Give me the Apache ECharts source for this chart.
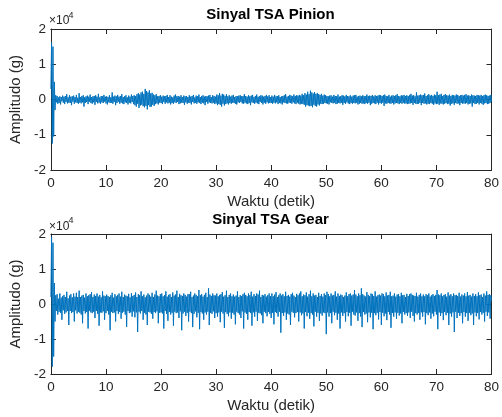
<!DOCTYPE html>
<html>
<head>
<meta charset="utf-8">
<script src="https://cdn.jsdelivr.net/npm/echarts@6/dist/echarts.min.js"></script>
<style>html,body{margin:0;padding:0;background:#fff}#c{width:502px;height:417px}</style>
</head>
<body>
<div id="c"></div>
<script>
// time span of the signals (detik); samples are evenly spaced over it
var duration = 80;
var xTicks = [0, 10, 20, 30, 40, 50, 60, 70, 80];
var yTicks = [-2, -1, 0, 1, 2]; // x 10^4
var titles = ['Sinyal TSA Pinion', 'Sinyal TSA Gear'];
var xName = 'Waktu (detik)';
var yName = 'Amplitudo (g)';

// Amplitudes in units of 10^4 g
var pinion = [
 0.3, 1.62, -1.25, 1.5, -1.05, 0.5, -0.3, 0.12, -0.08, 0.1, -0.12, 0.06, -0.1, 0.09, -0.14, 0.07, -0.05, 0.11, -0.09, 0.08, -0.13, 0.1, -0.07, 0.15, -0.11, 0.06, -0.09, 0.12, -0.1, 0.08, -0.16, 0.09, -0.06, 0.11, -0.12, 0.07, -0.08, 0.13, -0.1, 0.05,
 -0.12, 0.18, -0.09, 0.07, -0.11, 0.1, -0.08, 0.12, -0.2, 0.06, -0.1, 0.09, -0.07, 0.11, -0.13, 0.08, -0.06, 0.14, -0.1, 0.07, -0.12, 0.09, -0.08, 0.1, -0.15, 0.12, -0.07, 0.08, -0.11, 0.16, -0.09, 0.06, -0.12, 0.1, -0.08, 0.09, -0.1, 0.13, -0.06, 0.08,
 -0.11, 0.09, -0.14, 0.07, -0.08, 0.12, -0.1, 0.06, -0.09, 0.2, -0.12, 0.08, -0.07, 0.11, -0.16, 0.09, -0.1, 0.13, -0.06, 0.08, -0.12, 0.1, -0.09, 0.15, -0.11, 0.07, -0.13, 0.09, -0.08, 0.12, -0.1, 0.06, -0.14, 0.11, -0.09, 0.08, -0.11, 0.14, -0.07, 0.1,
 -0.13, 0.12, -0.16, 0.1, -0.2, 0.15, -0.12, 0.18, -0.24, 0.14, -0.17, 0.2, -0.15, 0.22, -0.19, 0.16, -0.22, 0.3, -0.18, 0.24, -0.28, 0.2, -0.16, 0.26, -0.21, 0.17, -0.2, 0.19, -0.15, 0.14, -0.18, 0.12, -0.13, 0.15, -0.11, 0.09, -0.14, 0.1, -0.09, 0.12,
 -0.1, 0.08, -0.13, 0.11, -0.07, 0.09, -0.12, 0.1, -0.08, 0.13, -0.11, 0.07, -0.09, 0.12, -0.14, 0.08, -0.1, 0.06, -0.12, 0.11, -0.08, 0.14, -0.1, 0.09, -0.07, 0.1, -0.13, 0.08, -0.11, 0.12, -0.09, 0.07, -0.1, 0.11, -0.15, 0.09, -0.08, 0.1, -0.12, 0.07,
 -0.09, 0.12, -0.1, 0.08, -0.14, 0.1, -0.07, 0.13, -0.11, 0.06, -0.09, 0.11, -0.12, 0.09, -0.08, 0.14, -0.1, 0.07, -0.13, 0.1, -0.09, 0.12, -0.11, 0.08, -0.16, 0.1, -0.07, 0.09, -0.12, 0.11, -0.08, 0.13, -0.1, 0.07, -0.11, 0.12, -0.09, 0.1, -0.13, 0.08,
 -0.11, 0.14, -0.16, 0.12, -0.13, 0.18, -0.15, 0.11, -0.2, 0.16, -0.12, 0.14, -0.17, 0.1, -0.13, 0.15, -0.11, 0.09, -0.14, 0.12, -0.1, 0.08, -0.12, 0.11, -0.09, 0.13, -0.1, 0.07, -0.12, 0.1, -0.14, 0.09, -0.08, 0.11, -0.1, 0.12, -0.07, 0.09, -0.11, 0.1,
 -0.12, 0.15, -0.09, 0.1, -0.11, 0.08, -0.13, 0.12, -0.1, 0.09, -0.16, 0.11, -0.08, 0.13, -0.1, 0.07, -0.12, 0.1, -0.09, 0.14, -0.11, 0.08, -0.13, 0.09, -0.07, 0.12, -0.1, 0.11, -0.14, 0.08, -0.09, 0.1, -0.12, 0.13, -0.08, 0.09, -0.11, 0.12, -0.1, 0.07,
 -0.1, 0.11, -0.12, 0.08, -0.09, 0.13, -0.11, 0.09, -0.08, 0.1, -0.13, 0.12, -0.1, 0.07, -0.11, 0.09, -0.14, 0.1, -0.08, 0.12, -0.1, 0.15, -0.11, 0.08, -0.12, 0.1, -0.09, 0.13, -0.1, 0.11, -0.12, 0.09, -0.08, 0.14, -0.11, 0.1, -0.13, 0.12, -0.09, 0.11,
 -0.12, 0.13, -0.14, 0.11, -0.12, 0.16, -0.13, 0.12, -0.15, 0.18, -0.2, 0.14, -0.16, 0.22, -0.17, 0.15, -0.19, 0.25, -0.18, 0.2, -0.22, 0.17, -0.15, 0.21, -0.18, 0.16, -0.2, 0.18, -0.14, 0.15, -0.17, 0.13, -0.12, 0.16, -0.13, 0.11, -0.12, 0.14, -0.1, 0.12,
 -0.11, 0.1, -0.12, 0.09, -0.14, 0.11, -0.08, 0.12, -0.1, 0.08, -0.11, 0.13, -0.09, 0.1, -0.13, 0.09, -0.12, 0.14, -0.1, 0.08, -0.11, 0.1, -0.09, 0.12, -0.15, 0.11, -0.1, 0.09, -0.12, 0.13, -0.08, 0.1, -0.11, 0.09, -0.13, 0.12, -0.1, 0.08, -0.12, 0.11,
 -0.1, 0.12, -0.11, 0.13, -0.09, 0.08, -0.14, 0.1, -0.12, 0.11, -0.1, 0.09, -0.12, 0.12, -0.11, 0.1, -0.13, 0.09, -0.1, 0.14, -0.12, 0.1, -0.09, 0.11, -0.16, 0.1, -0.12, 0.13, -0.1, 0.09, -0.11, 0.12, -0.13, 0.1, -0.09, 0.11, -0.14, 0.13, -0.1, 0.12,
 -0.12, 0.1, -0.09, 0.12, -0.18, 0.14, -0.11, 0.1, -0.12, 0.09, -0.1, 0.13, -0.11, 0.08, -0.12, 0.11, -0.1, 0.12, -0.14, 0.1, -0.11, 0.12, -0.1, 0.15, -0.11, 0.1, -0.13, 0.09, -0.1, 0.12, -0.12, 0.11, -0.09, 0.13, -0.12, 0.1, -0.11, 0.12, -0.13, 0.1,
 -0.12, 0.13, -0.11, 0.16, -0.1, 0.11, -0.15, 0.12, -0.1, 0.09, -0.12, 0.2, -0.13, 0.11, -0.12, 0.12, -0.1, 0.14, -0.16, 0.12, -0.1, 0.13, -0.12, 0.17, -0.11, 0.1, -0.14, 0.12, -0.12, 0.15, -0.13, 0.11, -0.1, 0.13, -0.12, 0.1, -0.15, 0.14, -0.11, 0.12,
 -0.13, 0.22, -0.12, 0.12, -0.15, 0.14, -0.11, 0.16, -0.12, 0.1, -0.14, 0.13, -0.12, 0.15, -0.1, 0.12, -0.13, 0.11, -0.12, 0.14, -0.17, 0.1, -0.12, 0.13, -0.11, 0.12, -0.15, 0.11, -0.1, 0.14, -0.12, 0.13, -0.11, 0.1, -0.16, 0.12, -0.1, 0.13, -0.12, 0.11,
 -0.11, 0.13, -0.12, 0.15, -0.1, 0.11, -0.14, 0.12, -0.12, 0.1, -0.11, 0.14, -0.2, 0.12, -0.1, 0.11, -0.13, 0.1, -0.12, 0.13, -0.1, 0.12, -0.14, 0.11, -0.1, 0.13, -0.12, 0.1, -0.15, 0.12, -0.11, 0.14, -0.1, 0.12, -0.13, 0.1, -0.12, 0.11, -0.1, 0.13,
 -0.05
];

var gear = [
 0.2, 1.92, -1.79, 1.75, -1.5, 0.6, -0.5, 0.25, -0.2, 0.28, -0.3, 0.15, -0.22, 0.3, -0.25, 0.18, -0.45, 0.22, -0.18, 0.26, -0.28, 0.2, -0.24, 0.35, -0.2, 0.16, -0.6, 0.24, -0.2, 0.28, -0.26, 0.19, -0.23, 0.3, -0.5, 0.21, -0.18, 0.32, -0.27, 0.2,
 -0.22, 0.38, -0.25, 0.2, -0.3, 0.24, -0.55, 0.26, -0.2, 0.18, -0.27, 0.3, -0.23, 0.22, -0.7, 0.25, -0.19, 0.28, -0.24, 0.34, -0.26, 0.2, -0.22, 0.27, -0.4, 0.23, -0.2, 0.3, -0.28, 0.21, -0.62, 0.26, -0.24, 0.19, -0.25, 0.36, -0.21, 0.24, -0.45, 0.22,
 -0.26, 0.27, -0.2, 0.23, -0.3, 0.2, -0.75, 0.25, -0.22, 0.32, -0.26, 0.18, -0.24, 0.28, -0.5, 0.22, -0.2, 0.26, -0.28, 0.3, -0.23, 0.21, -0.42, 0.35, -0.25, 0.2, -0.22, 0.27, -0.3, 0.24, -0.65, 0.22, -0.2, 0.29, -0.26, 0.19, -0.24, 0.31, -0.36, 0.23,
 -0.21, 0.26, -0.38, 0.33, -0.24, 0.2, -0.8, 0.28, -0.22, 0.25, -0.27, 0.36, -0.2, 0.22, -0.45, 0.27, -0.25, 0.19, -0.3, 0.24, -0.6, 0.3, -0.22, 0.26, -0.24, 0.21, -0.28, 0.32, -0.42, 0.2, -0.23, 0.27, -0.26, 0.38, -0.21, 0.24, -0.55, 0.22, -0.25, 0.28,
 -0.24, 0.3, -0.27, 0.22, -0.7, 0.25, -0.2, 0.36, -0.28, 0.21, -0.48, 0.26, -0.23, 0.28, -0.3, 0.2, -0.25, 0.33, -0.62, 0.24, -0.22, 0.27, -0.26, 0.38, -0.24, 0.2, -0.4, 0.29, -0.21, 0.25, -0.75, 0.23, -0.27, 0.3, -0.22, 0.26, -0.34, 0.21, -0.25, 0.28,
 -0.5, 0.28, -0.22, 0.35, -0.26, 0.2, -0.66, 0.24, -0.28, 0.3, -0.21, 0.26, -0.38, 0.22, -0.25, 0.4, -0.72, 0.25, -0.23, 0.28, -0.27, 0.21, -0.45, 0.26, -0.24, 0.32, -0.3, 0.2, -0.22, 0.45, -0.6, 0.27, -0.25, 0.23, -0.28, 0.3, -0.21, 0.25, -0.4, 0.24,
 -0.26, 0.3, -0.36, 0.22, -0.24, 0.26, -0.52, 0.28, -0.22, 0.34, -0.27, 0.21, -0.68, 0.25, -0.23, 0.38, -0.28, 0.2, -0.35, 0.26, -0.24, 0.3, -0.42, 0.22, -0.25, 0.27, -0.3, 0.21, -0.58, 0.24, -0.22, 0.36, -0.26, 0.2, -0.3, 0.25, -0.4, 0.23, -0.21, 0.28,
 -0.7, 0.32, -0.24, 0.26, -0.28, 0.22, -0.45, 0.3, -0.23, 0.25, -0.26, 0.35, -0.62, 0.21, -0.24, 0.28, -0.36, 0.23, -0.22, 0.3, -0.48, 0.27, -0.25, 0.38, -0.27, 0.2, -0.32, 0.26, -0.55, 0.24, -0.22, 0.28, -0.26, 0.21, -0.35, 0.25, -0.23, 0.3, -0.28, 0.22,
 -0.4, 0.3, -0.25, 0.22, -0.58, 0.27, -0.23, 0.34, -0.26, 0.2, -0.36, 0.25, -0.22, 0.3, -0.82, 0.24, -0.26, 0.28, -0.34, 0.22, -0.24, 0.35, -0.45, 0.23, -0.27, 0.26, -0.3, 0.21, -0.6, 0.28, -0.22, 0.32, -0.25, 0.24, -0.38, 0.2, -0.26, 0.29, -0.23, 0.25,
 -0.5, 0.3, -0.24, 0.36, -0.32, 0.22, -0.27, 0.27, -0.7, 0.25, -0.23, 0.33, -0.35, 0.21, -0.25, 0.28, -0.42, 0.38, -0.26, 0.22, -0.3, 0.3, -0.64, 0.24, -0.22, 0.26, -0.36, 0.2, -0.25, 0.32, -0.48, 0.23, -0.27, 0.28, -0.33, 0.21, -0.24, 0.3, -0.26, 0.25,
 -0.86, 0.35, -0.24, 0.28, -0.36, 0.22, -0.26, 0.3, -0.55, 0.24, -0.22, 0.26, -0.32, 0.36, -0.25, 0.21, -0.45, 0.3, -0.27, 0.23, -0.7, 0.27, -0.24, 0.25, -0.34, 0.2, -0.26, 0.24, -0.5, 0.33, -0.23, 0.22, -0.35, 0.28, -0.25, 0.3, -0.62, 0.24, -0.22, 0.27,
 -0.3, 0.4, -0.33, 0.27, -0.24, 0.22, -0.48, 0.3, -0.26, 0.25, -0.36, 0.45, -0.66, 0.28, -0.23, 0.24, -0.3, 0.21, -0.27, 0.34, -0.52, 0.26, -0.24, 0.22, -0.38, 0.3, -0.25, 0.28, -0.72, 0.23, -0.26, 0.36, -0.32, 0.21, -0.25, 0.25, -0.44, 0.27, -0.23, 0.24,
 -0.6, 0.3, -0.25, 0.28, -0.35, 0.22, -0.27, 0.33, -0.46, 0.24, -0.23, 0.26, -0.3, 0.35, -0.68, 0.22, -0.26, 0.24, -0.36, 0.3, -0.24, 0.21, -0.42, 0.27, -0.25, 0.28, -0.33, 0.22, -0.27, 0.32, -0.55, 0.25, -0.23, 0.26, -0.3, 0.2, -0.26, 0.29, -0.34, 0.23,
 -0.24, 0.28, -0.4, 0.3, -0.22, 0.26, -0.34, 0.24, -0.5, 0.23, -0.26, 0.32, -0.3, 0.21, -0.25, 0.26, -0.45, 0.3, -0.24, 0.22, -0.36, 0.27, -0.23, 0.22, -0.58, 0.28, -0.26, 0.25, -0.32, 0.3, -0.24, 0.21, -0.42, 0.25, -0.27, 0.28, -0.35, 0.23, -0.22, 0.26,
 -0.3, 0.4, -0.72, 0.27, -0.24, 0.25, -0.34, 0.3, -0.26, 0.22, -0.46, 0.26, -0.23, 0.28, -0.32, 0.21, -0.25, 0.33, -0.6, 0.24, -0.27, 0.28, -0.36, 0.22, -0.24, 0.3, -0.8, 0.25, -0.22, 0.26, -0.4, 0.23, -0.25, 0.32, -0.34, 0.21, -0.26, 0.27, -0.55, 0.24,
 -0.23, 0.3, -0.36, 0.22, -0.26, 0.34, -0.48, 0.24, -0.25, 0.26, -0.32, 0.21, -0.27, 0.3, -0.6, 0.23, -0.24, 0.28, -0.35, 0.22, -0.26, 0.33, -0.44, 0.25, -0.23, 0.27, -0.3, 0.2, -0.25, 0.3, -0.5, 0.24, -0.22, 0.36, -0.34, 0.26, -0.24, 0.28, -0.42, 0.25,
 0.1
];

function withTime(vals) {
  var step = duration / (vals.length - 1);
  return vals.map(function (v, i) { return [i * step, v]; });
}

var FONT = '"Liberation Sans", Arial, Helvetica, sans-serif';
var TXT = '#262626';
var LINE = '#262626';
var BLUE = '#0072BD';

var grids = [
  { left: 48, right: 9, top: 29, height: 141 },
  { left: 48, right: 9, top: 234, height: 140 }
];

function xMain(gi) {
  return {
    type: 'value', gridIndex: gi, min: xTicks[0], max: xTicks[xTicks.length - 1], interval: 10,
    position: 'bottom',
    name: xName, nameLocation: 'middle', nameGap: 24,
    nameTextStyle: { fontFamily: FONT, fontSize: 15, color: TXT },
    axisLine: { show: true, onZero: false, lineStyle: { color: LINE, width: 1 } },
    axisTick: { show: true, inside: true, length: 5, lineStyle: { color: LINE } },
    axisLabel: { show: true, margin: 6, fontFamily: FONT, fontSize: 13.5, color: TXT },
    splitLine: { show: false }
  };
}
function xTop(gi) {
  return {
    type: 'value', gridIndex: gi, min: xTicks[0], max: xTicks[xTicks.length - 1], interval: 10,
    position: 'top',
    axisLine: { show: true, onZero: false, lineStyle: { color: LINE, width: 1 } },
    axisTick: { show: true, inside: true, length: 5, lineStyle: { color: LINE } },
    axisLabel: { show: false },
    splitLine: { show: false }
  };
}
function yMain(gi) {
  return {
    type: 'value', gridIndex: gi, min: yTicks[0], max: yTicks[yTicks.length - 1], interval: 1,
    position: 'left',
    name: yName, nameLocation: 'middle', nameGap: 25, nameRotate: 90,
    nameTextStyle: { fontFamily: FONT, fontSize: 15, color: TXT },
    axisLine: { show: true, onZero: false, lineStyle: { color: LINE, width: 1 } },
    axisTick: { show: true, inside: true, length: 5, lineStyle: { color: LINE } },
    axisLabel: { show: true, margin: 5, fontFamily: FONT, fontSize: 13.5, color: TXT,
      formatter: function (v) { return String(v); } },
    splitLine: { show: false }
  };
}
function yRight(gi) {
  return {
    type: 'value', gridIndex: gi, min: yTicks[0], max: yTicks[yTicks.length - 1], interval: 1,
    position: 'right',
    axisLine: { show: true, onZero: false, lineStyle: { color: LINE, width: 1 } },
    axisTick: { show: true, inside: true, length: 5, lineStyle: { color: LINE } },
    axisLabel: { show: false },
    splitLine: { show: false }
  };
}

var chart = echarts.init(document.getElementById('c'), null, { renderer: 'canvas' });

function titleText(txt, cx, cy) {
  return {
    type: 'text', x: cx, y: cy,
    style: { text: txt, fontFamily: FONT, fontSize: 15, fontWeight: 'bold', fill: '#000',
      align: 'center', verticalAlign: 'middle' }
  };
}
function expTexts(x, cy) {
  return [
    { type: 'text', x: x, y: cy,
      style: { text: '\u00d710', fontFamily: FONT, fontSize: 12, fill: TXT, align: 'left', verticalAlign: 'middle' } },
    { type: 'text', x: x + 19.5, y: cy - 5.5,
      style: { text: '4', fontFamily: FONT, fontSize: 9, fill: TXT, align: 'left', verticalAlign: 'middle' } }
  ];
}

chart.setOption({
  animation: false,
  backgroundColor: '#fff',
  grid: grids,
  xAxis: [xMain(0), xTop(0), xMain(1), xTop(1)],
  yAxis: [yMain(0), yRight(0), yMain(1), yRight(1)],
  series: [
    { type: 'line', name: titles[0], xAxisIndex: 0, yAxisIndex: 0, data: withTime(pinion),
      showSymbol: false, symbol: 'none', sampling: null, silent: true, z: 5,
      lineStyle: { color: BLUE, width: 1 } },
    { type: 'line', name: titles[1], xAxisIndex: 2, yAxisIndex: 2, data: withTime(gear),
      showSymbol: false, symbol: 'none', sampling: null, silent: true, z: 5,
      lineStyle: { color: BLUE, width: 1 } }
  ],
  graphic: [
    titleText(titles[0], 270.5, 15),
    titleText(titles[1], 270.5, 220)
  ].concat(expTexts(49, 21)).concat(expTexts(49, 226.5))
});
</script>
</body>
</html>
